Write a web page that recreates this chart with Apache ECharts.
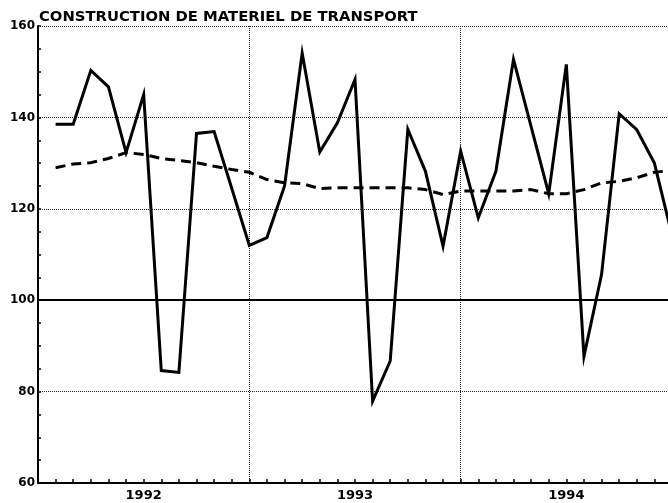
<!DOCTYPE html>
<html>
<head>
<meta charset="utf-8">
<script src="https://cdn.jsdelivr.net/npm/echarts@6/dist/echarts.min.js"></script>
<style>
  html, body { margin: 0; padding: 0; background: #fff; }
  #chart { width: 668px; height: 503px; }
</style>
</head>
<body>
<div id="chart"></div>
<script>
// months since start of 1992 (point at end of each month)
const months = [1, 2, 3, 4, 5, 6, 7, 8, 9, 10, 11, 12,
  13, 14, 15, 16, 17, 18, 19, 20, 21, 22, 23, 24,
  25, 26, 27, 28, 29, 30, 31, 32, 33, 34, 35, 36];
// raw series (solid)
const brute = [138.5, 138.5, 150.3, 146.7, 132.3, 145, 84.6, 84.2, 136.5, 136.9, 124.5, 112,
  113.7, 125, 154.1, 132.4, 138.8, 148.3, 77.9, 86.7, 137.4, 128.2, 111.8, 132.6,
  118, 128.2, 152.7, 138, 123.3, 151.6, 87.7, 105.6, 140.8, 137.3, 130, 114.2];
// trend (dashed)
const tendance = [129, 129.8, 130.1, 131, 132.3, 131.9, 131, 130.6, 130.1, 129.3, 128.6, 128,
  126.4, 125.7, 125.5, 124.4, 124.6, 124.6, 124.6, 124.6, 124.6, 124.2, 123.1, 123.9,
  123.9, 123.9, 123.9, 124.2, 123.3, 123.3, 124.2, 125.7, 126, 126.8, 128, 128.4];
const yearLabels = ['1992', '1993', '1994'];
const titre = 'CONSTRUCTION DE MATERIEL DE TRANSPORT';

const chart = echarts.init(document.getElementById('chart'));

const pairs = (ys) => months.map((m, i) => [m, ys[i]]);

const option = {
  animation: false,
  backgroundColor: '#fff',
  title: {
    text: titre,
    left: 39,
    top: 10,
    padding: 0,
    textStyle: {
      fontFamily: 'DejaVu Sans',
      fontWeight: 'bold',
      fontSize: 14.8,
      color: '#000'
    }
  },
  grid: {
    left: 38,
    right: -4,
    top: 26,
    bottom: 20,
    containLabel: false,
    outerBoundsMode: 'none'
  },
  xAxis: [
    {
      // year boundaries
      type: 'value',
      min: 0,
      max: 36,
      interval: 12,
      axisLine: { show: true, lineStyle: { color: '#000', width: 2 } },
      axisTick: { show: false },
      axisLabel: { show: false },
      splitLine: { show: true, lineStyle: { color: '#222', width: 1, type: [1, 1] } }
    },
    {
      // monthly ticks + year labels
      type: 'value',
      position: 'bottom',
      min: 0,
      max: 36,
      interval: 1,
      axisLine: { show: false },
      axisTick: { show: true, inside: true, length: 4, lineStyle: { color: '#000', width: 1.5 } },
      splitLine: { show: false },
      axisLabel: {
        margin: 6,
        color: '#000',
        fontFamily: 'DejaVu Sans',
        fontWeight: 'bold',
        fontSize: 13,
        formatter: (v) => (v % 12 === 6 ? yearLabels[(v - 6) / 12] : '')
      }
    }
  ],
  yAxis: [
    {
      type: 'value',
      min: 60,
      max: 160,
      interval: 20,
      axisLine: { show: true, lineStyle: { color: '#000', width: 2 } },
      axisTick: { show: false },
      axisLabel: {
        margin: 3,
        color: '#000',
        fontFamily: 'DejaVu Sans',
        fontWeight: 'bold',
        fontSize: 12
      },
      splitLine: { show: true, lineStyle: { color: '#222', width: 1, type: [1, 1] } }
    },
    {
      // small ticks every 5
      type: 'value',
      position: 'left',
      min: 60,
      max: 160,
      interval: 5,
      axisLine: { show: false },
      axisTick: { show: true, inside: true, length: 3, lineStyle: { color: '#000', width: 1.5 } },
      axisLabel: { show: false },
      splitLine: { show: false }
    }
  ],
  series: [
    {
      name: 'brute',
      type: 'line',
      data: pairs(brute),
      showSymbol: false,
      lineStyle: { color: '#000', width: 3, join: 'miter' },
      markLine: {
        silent: true,
        symbol: 'none',
        label: { show: false },
        lineStyle: { color: '#000', width: 2, type: 'solid' },
        data: [{ yAxis: 100 }]
      }
    },
    {
      name: 'tendance',
      type: 'line',
      data: pairs(tendance),
      showSymbol: false,
      lineStyle: { color: '#000', width: 3, type: [10, 6] }
    }
  ]
};

chart.setOption(option);
</script>
</body>
</html>
